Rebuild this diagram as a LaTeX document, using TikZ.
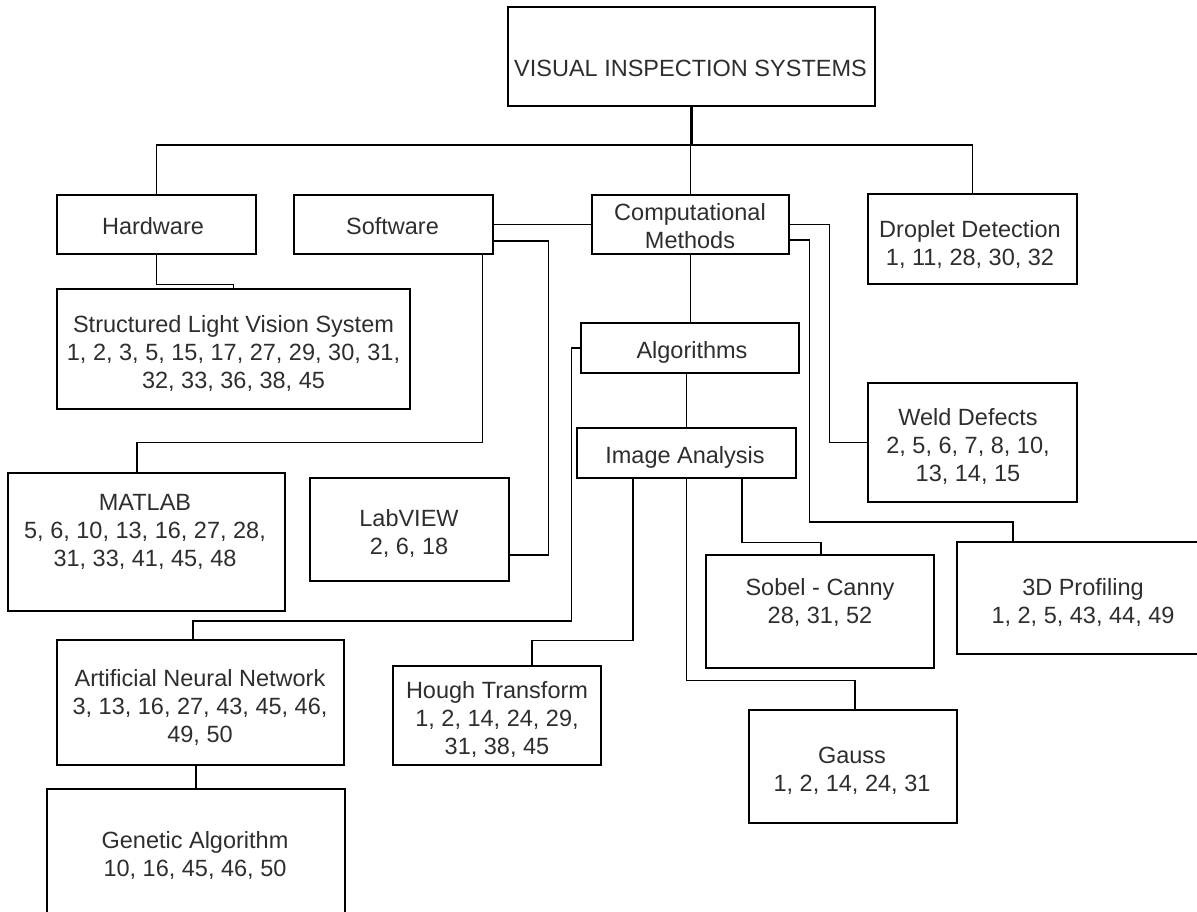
\documentclass[tikz,border=0pt]{standalone}
\usepackage{fontspec}
\setmainfont{Liberation Sans}
\usetikzlibrary{calc}
\begin{document}
\begin{tikzpicture}[x=1pt,y=-1pt,
  box/.style={draw=black, line width=1.3pt, fill=white, inner sep=0pt},
  txt/.style={align=center, text=black!82, inner sep=0pt, font=\fontsize{23.5}{28}\selectfont},
  conn/.style={draw=black, line width=1.3pt},
  stem/.style={draw=black, line width=3pt}]
\useasboundingbox (0,0) rectangle (1197,911);
\clip (0,0) rectangle (1197,911);
\fill[white] (0,0) rectangle (1197,911);

% ---- boxes ----
\node[box, minimum width=367pt, minimum height=99pt]  (top)    at (691.5,56.5) {};
\node[box, minimum width=199pt, minimum height=59pt]  (hw)     at (156.5,224.5) {};
\node[box, minimum width=199pt, minimum height=59pt]  (sw)     at (393.5,224.5) {};
\node[box, minimum width=197pt, minimum height=59pt]  (comp)   at (690.5,224.5) {};
\node[box, minimum width=209pt, minimum height=90pt]  (drop)   at (972.5,239) {};
\node[box, minimum width=353pt, minimum height=120pt] (slvs)   at (233.5,349) {};
\node[box, minimum width=218pt, minimum height=50pt]  (alg)    at (690,348) {};
\node[box, minimum width=209pt, minimum height=119pt] (weld)   at (972.5,442.5) {};
\node[box, minimum width=219pt, minimum height=50pt]  (ia)     at (686.5,453) {};
\node[box, minimum width=277pt, minimum height=138pt] (matlab) at (146.5,542) {};
\node[box, minimum width=199pt, minimum height=103pt] (lab)    at (409.5,529.5) {};
\node[box, minimum width=228pt, minimum height=113pt] (sobel)  at (820,611.5) {};
\node[box, minimum width=252pt, minimum height=112pt] (prof)   at (1083,598) {};
\node[box, minimum width=287pt, minimum height=125pt] (ann)    at (200.5,702.5) {};
\node[box, minimum width=208pt, minimum height=99pt]  (hough)  at (497,715.5) {};
\node[box, minimum width=208pt, minimum height=113pt] (gauss)  at (853,766.5) {};
\node[box, minimum width=298pt, minimum height=131pt] (gen)    at (196,854.5) {};

% ---- texts ----
\node[txt] (top-t)    at (690.5,68)   {VISUAL INSPECTION SYSTEMS};
\node[txt] (hw-t)     at (153,226)    {Hardware};
\node[txt] (sw-t)     at (392.5,226)  {Software};
\node[txt] (comp-t)   at (690,226.5)  {Computational\\Methods};
\node[txt] (drop-t)   at (970,244)    {Droplet Detection\\1, 11, 28, 30, 32};
\node[txt] (slvs-t)   at (233.5,353)  {Structured Light Vision System\\1, 2, 3, 5, 15, 17, 27, 29, 30, 31,\\32, 33, 36, 38, 45};
\node[txt] (alg-t)    at (692,352)    {Algorithms};
\node[txt] (weld-t)   at (968,446.5)  {Weld Defects\\2, 5, 6, 7, 8, 10,\\13, 14, 15};
\node[txt] (ia-t)     at (685,457)    {Image Analysis};
\node[txt] (matlab-t) at (145,532)    {MATLAB\\5, 6, 10, 13, 16, 27, 28,\\31, 33, 41, 45, 48};
\node[txt] (lab-t)    at (409,533)    {LabVIEW\\2, 6, 18};
\node[txt] (sobel-t)  at (820,602.5)  {Sobel - Canny\\28, 31, 52};
\node[txt] (prof-t)   at (1083,602.5) {3D Profiling\\1, 2, 5, 43, 44, 49};
\node[txt] (ann-t)    at (200,707)    {Artificial Neural Network\\3, 13, 16, 27, 43, 45, 46,\\49, 50};
\node[txt] (hough-t)  at (497,719)    {Hough Transform\\1, 2, 14, 24, 29,\\31, 38, 45};
\node[txt] (gauss-t)  at (852,771)    {Gauss\\1, 2, 14, 24, 31};
\node[txt] (gen-t)    at (195,855.5)  {Genetic Algorithm\\10, 16, 45, 46, 50};

% ---- connectors ----
\coordinate (bus) at (0,145);
\draw[stem] (top.south) -- (top.south |- bus);
\draw[conn] (hw.north) -- (hw.north |- bus) -- (drop.north |- bus) -- (drop.north);
\draw[conn] (comp.north) -- (comp.north |- bus);
\draw[conn] (hw.south) -- ++(0,30) -| (slvs.north);
\draw[conn] (sw.east) -- (comp.west);
\draw[conn] ([xshift=-11pt]sw.south east) -- ++(0,188) -| ([xshift=-9.5pt]matlab.north);
\draw[conn] ([yshift=-16.5pt]sw.east) -- ++(55,0) |- ([yshift=-25.5pt]lab.east);
\draw[conn] (comp.south) -- (comp.south |- alg.north);
\draw[conn] (ia.north) -- (ia.north |- alg.south);
\draw[conn] (alg.west) -- ++(-9,0) -- ++(0,273) -| ([xshift=-7.5pt]ann.north);
\draw[conn] (comp.east) -- ++(40,0) |- (weld.west);
\draw[conn] ([yshift=-15.5pt]comp.east) -- ++(20,0) -- ++(0,282) -| ([xshift=-70pt]prof.north);
\draw[conn] ([xshift=-53.5pt]ia.south) -- ++(0,162) -| ([xshift=35pt]hough.north);
\draw[conn] (ia.south) -- ++(0,202) -| ([xshift=2pt]gauss.north);
\draw[conn] ([xshift=55.5pt]ia.south) -- ++(0,64) -| ([xshift=1pt]sobel.north);
\draw[conn] (gen.north) -- (gen.north |- ann.south);
\end{tikzpicture}
\end{document}
